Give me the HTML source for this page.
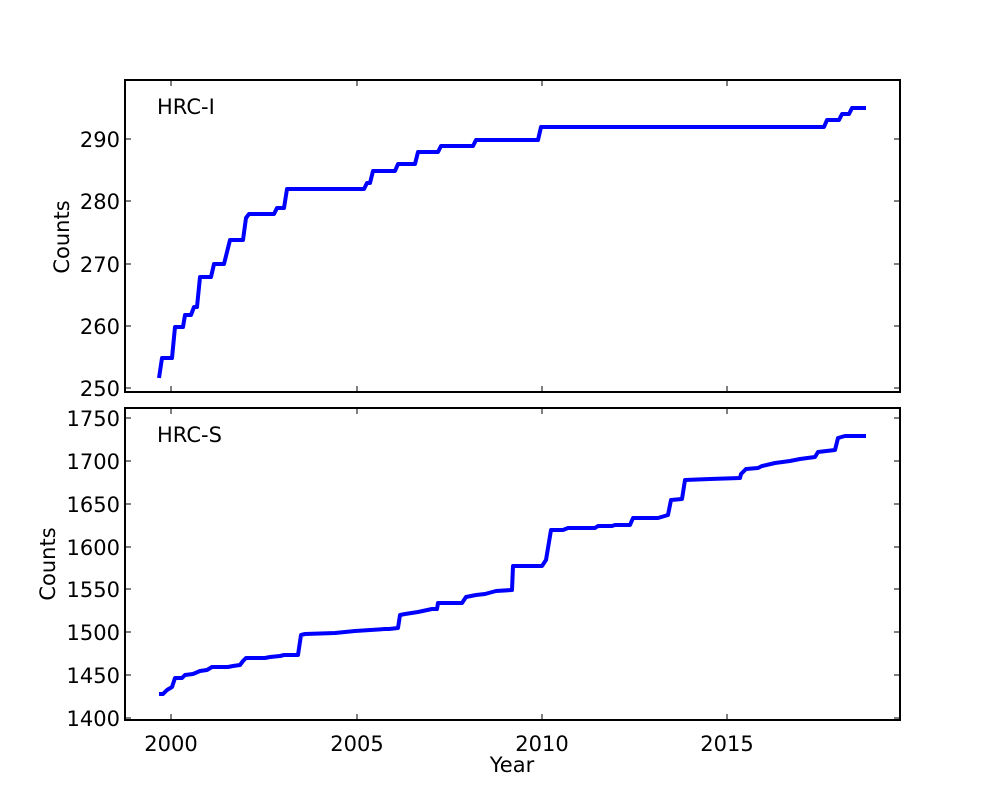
<!DOCTYPE html><html><head><style>body{margin:0;background:#fff}svg text{font-family:"DejaVu Sans",sans-serif;font-size:21px;fill:#000}</style></head><body>
<svg width="1000" height="800" xmlns="http://www.w3.org/2000/svg">
<rect width="1000" height="800" fill="#fff"/>
<g stroke="#000" stroke-width="1">
<line x1="171" y1="80" x2="171" y2="86"/><line x1="357" y1="80" x2="357" y2="86"/><line x1="542" y1="80" x2="542" y2="86"/><line x1="727" y1="80" x2="727" y2="86"/>
<line x1="171" y1="392" x2="171" y2="386"/><line x1="357" y1="392" x2="357" y2="386"/><line x1="542" y1="392" x2="542" y2="386"/><line x1="727" y1="392" x2="727" y2="386"/>
<line x1="171" y1="408" x2="171" y2="414"/><line x1="357" y1="408" x2="357" y2="414"/><line x1="542" y1="408" x2="542" y2="414"/><line x1="727" y1="408" x2="727" y2="414"/>
<line x1="171" y1="720" x2="171" y2="714"/><line x1="357" y1="720" x2="357" y2="714"/><line x1="542" y1="720" x2="542" y2="714"/><line x1="727" y1="720" x2="727" y2="714"/>
<path d="M125 388h6M125 326h6M125 264h6M125 201h6M125 139h6M900 388h-6M900 326h-6M900 264h-6M900 201h-6M900 139h-6"/>
<path d="M125 718h6M125 675h6M125 632h6M125 589h6M125 547h6M125 504h6M125 461h6M125 418h6M900 718h-6M900 675h-6M900 632h-6M900 589h-6M900 547h-6M900 504h-6M900 461h-6M900 418h-6"/>
</g>
<g fill="none" stroke="#00f" stroke-width="4" stroke-linejoin="round">
<polyline points="159,378 162,358 172,358 175,327 183,327 185,315 191,315 194,307 197,307 200,277 211,277 214,264 224,264 230,240 243,240 246,218 249,214 274,214 277,208 284,208 287,189 364,189 367,183 370,183 373,171 395,171 398,164 415,164 418,152 438,152 441,146 473,146 476,140 538,140 541,127 824,127 827,120 839,120 842,114 849,114 852,108 866,108"/>
<polyline points="159,694 163,694 167,690 172,687 175,678 182,678 185,675 193,674 200,671 207,670 212,667 228,667 233,666 240,665 243,661 246,658 265,658 270,657 280,656 284,655 298,655 301,635 305,634 335,633 355,631 385,629 389,629 398,628 400,615 405,614 418,612 432,609 437,609 438,603 462,603 466,597 476,595 485,594 496,591 512,590 513,566 542,566 546,560 551,530 563,530 568,528 595,528 598,526 612,526 615,525 630,525 633,518 658,518 668,515 671,500 682,499 685,480 710,479 740,478 741,474 746,469 758,468 762,466 775,463 790,461 800,459 815,457 818,452 835,450 838,438 845,436 866,436"/>
</g>
<rect x="125" y="80" width="775" height="312" fill="none" stroke="#000" stroke-width="2"/>
<rect x="125" y="408" width="775" height="312" fill="none" stroke="#000" stroke-width="2"/>
<g text-anchor="end">
<text x="120" y="396">250</text><text x="120" y="334">260</text><text x="120" y="272">270</text><text x="120" y="209">280</text><text x="120" y="147">290</text>
<text x="120" y="726">1400</text><text x="120" y="683">1450</text><text x="120" y="640">1500</text><text x="120" y="597">1550</text><text x="120" y="555">1600</text><text x="120" y="512">1650</text><text x="120" y="469">1700</text><text x="120" y="426">1750</text>
</g>
<g text-anchor="middle">
<text x="171" y="751">2000</text><text x="357" y="751">2005</text><text x="542" y="751">2010</text><text x="727" y="751">2015</text>
<text x="512" y="772">Year</text>
<text transform="translate(69,237) rotate(-90)">Counts</text>
<text transform="translate(55,564) rotate(-90)">Counts</text>
</g>
<text x="157" y="114">HRC-I</text>
<text x="157" y="442">HRC-S</text>
</svg></body></html>
